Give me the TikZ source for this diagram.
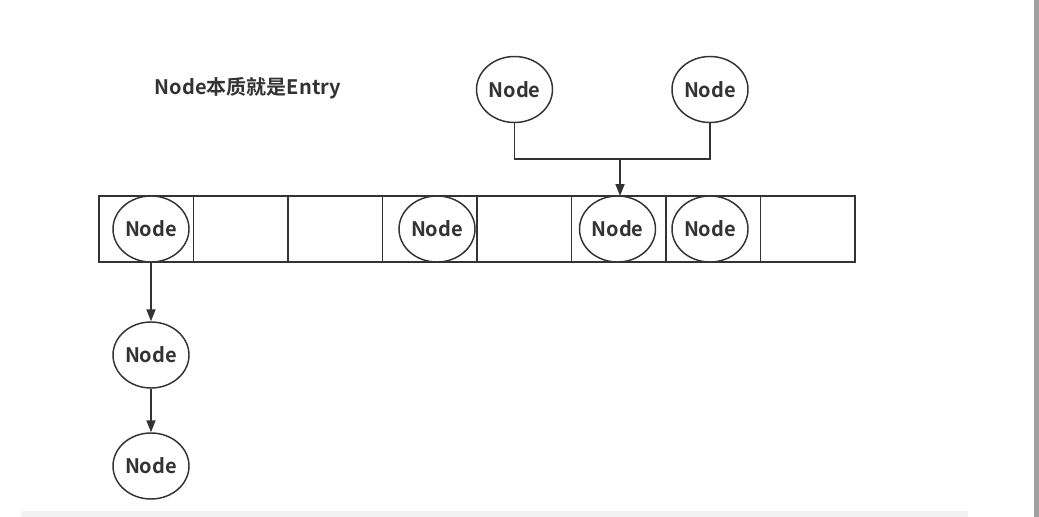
\documentclass[tikz,border=0pt]{standalone}
\usepackage{fontspec}
\setmainfont{Noto Sans CJK SC}[BoldFont={* Bold}]
\usetikzlibrary{shapes.geometric,arrows.meta}
\definecolor{ink}{HTML}{333333}
\definecolor{band}{HTML}{F2F2F2}
\definecolor{bar}{HTML}{A0A0A0}
\begin{document}
\begin{tikzpicture}[x=0.75pt,y=-0.75pt,
  cellbox/.style={minimum width=70.875pt,minimum height=49.5pt,inner sep=0pt,outer sep=0pt},
  frame/.style={draw=ink,line width=1.1pt},
  nodeball/.style={ellipse,draw=ink,line width=1.1pt,fill=white,minimum width=57pt,minimum height=49.5pt,inner sep=0pt,
    font=\bfseries\fontsize{15pt}{18pt}\selectfont,text=ink},
  link/.style={draw=ink,line width=1.3pt},
  linkarrow/.style={link,-{Triangle[length=9pt,width=6.75pt]}}]
\useasboundingbox (0,0) rectangle (1039,517);
\fill[white] (0,0) rectangle (1039,517);
\fill[band] (21,511) rectangle (968,517);
\fill[bar] (1034,0) rectangle (1039,517);
\node[font=\bfseries\fontsize{15pt}{18pt}\selectfont,text=ink] (title) at (248,88) {Node本质就是Entry};
\foreach \i in {1,...,8} {
  \node[cellbox] (c\i) at ({99+94.5*(\i-0.5)},229) {};
}
\draw[frame] (c1.north west) rectangle (c8.south east);
\foreach \i in {1,...,7} {
  \draw[frame] (c\i.north east) -- (c\i.south east);
}
\node[nodeball] (a1) at (151,229) {Node};
\node[nodeball] (a4) at (437,229) {Node};
\node[nodeball] (a6) at (617.5,229) {Node};
\node[nodeball] (a7) at (710,229) {Node};
\node[nodeball] (t1) at (514.5,89.5) {Node};
\node[nodeball] (t2) at (710,89.5) {Node};
\node[nodeball] (b1) at (151,355) {Node};
\node[nodeball] (b2) at (151,466) {Node};
\coordinate (j) at (620,159);
\coordinate (jt) at (620,196);
\draw[link] (t1.south) |- (j) -| (t2.south);
\draw[linkarrow] (j) -- (jt);
\draw[linkarrow] (a1.south) -- (b1.north);
\draw[linkarrow] (b1.south) -- (b2.north);
\end{tikzpicture}
\end{document}
